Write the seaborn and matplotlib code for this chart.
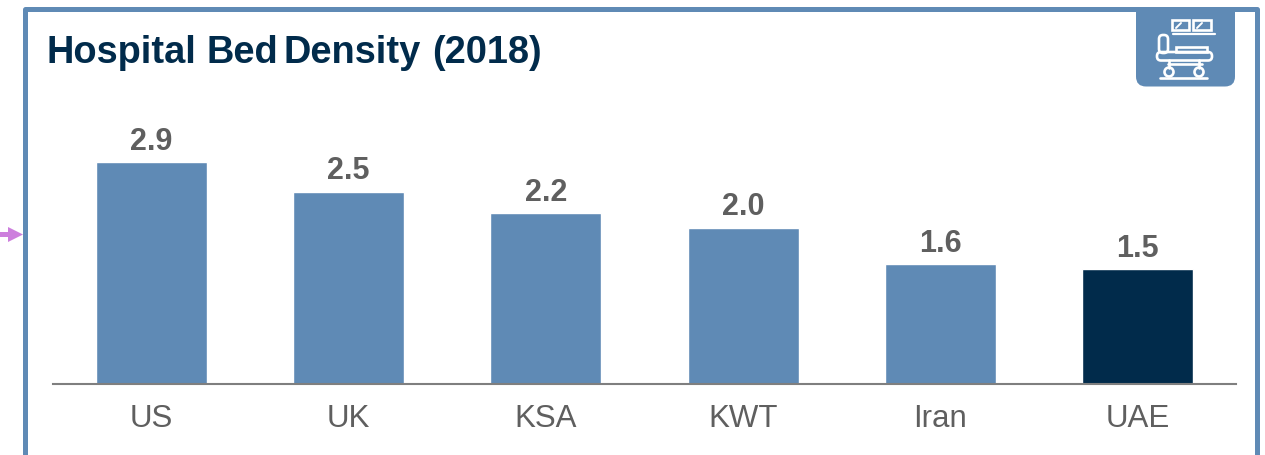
import matplotlib
matplotlib.use("Agg")
import matplotlib.pyplot as plt
from matplotlib.patches import Rectangle, FancyBboxPatch, Circle, Polygon
import seaborn as sns

countries = ["US", "UK", "KSA", "KWT", "Iran", "UAE"]
# bar heights, labels round them to one decimal
beds = [2.9, 2.51, 2.23, 2.04, 1.56, 1.5]
title_words = ["Hospital", "Bed", "Density", "(2018)"]

blue = "#5F8AB5"
navy = "#012B4B"
grey = "#5F5F5F"
bar_colors = [blue, blue, blue, blue, blue, navy]

sns.set_theme(style="white")
plt.rcParams["font.family"] = ["Liberation Sans", "DejaVu Sans"]

W, H = 1265, 456
fig = plt.figure(figsize=(W / 100, H / 100), dpi=100, facecolor="white")

# overlay in pixel coords for the frame, arrow and icon
deco = fig.add_axes([0, 0, 1, 1], zorder=0)
deco.set_xlim(0, W)
deco.set_ylim(H, 0)
deco.axis("off")

# frame, open at the bottom
deco.plot([25, 25, 1256.5, 1256.5], [H + 5, 9.5, 9.5, H + 5], color=blue, lw=3.6,
          solid_joinstyle="round")

# small arrow on the left of the frame
deco.add_patch(Rectangle((0, 233), 9, 5, color="#CD7FDD", lw=0))
deco.add_patch(Polygon([[8, 228], [8, 243], [23, 235.5]], color="#CD7FDD", lw=0))

# icon tab
deco.add_patch(Rectangle((1136, 9), 99, 50, color=blue, lw=0))
deco.add_patch(FancyBboxPatch((1136, 30), 99, 57.5, boxstyle="round,pad=0,rounding_size=10", color=blue, lw=0))

ic = dict(fill=False, ec="white", lw=1.9)
# pictures on the wall
deco.add_patch(Rectangle((1171.5, 20.5), 17.5, 10.5, **ic))
deco.add_patch(Rectangle((1193, 20.5), 17.5, 10.5, **ic))
deco.plot([1176, 1181], [29, 24], color="white", lw=1.4)
deco.plot([1197, 1202], [29, 24], color="white", lw=1.4)
deco.plot([1173, 1215], [34.5, 34.5], color="white", lw=1.6)
# headboard
deco.add_patch(FancyBboxPatch((1159, 36), 9, 18, boxstyle="round,pad=0,rounding_size=4", **ic))
# pillow / mattress
deco.add_patch(Rectangle((1175.5, 48), 31, 5, **ic))
deco.add_patch(FancyBboxPatch((1157, 53), 55, 8.5, boxstyle="round,pad=0,rounding_size=4", **ic))
# frame and wheels
deco.plot([1168, 1202], [64.5, 64.5], color="white", lw=1.9)
deco.plot([1169, 1169], [61, 69], color="white", lw=1.9)
deco.plot([1199, 1199], [61, 69], color="white", lw=1.9)
deco.add_patch(Circle((1169, 73), 4.5, **ic))
deco.add_patch(Circle((1199, 73), 4.5, **ic))
deco.plot([1160, 1207], [78.5, 78.5], color="white", lw=1.9)

# title, word by word because the spaces are narrow in the original
for word, x in zip(title_words, [46.5, 206.5, 284, 432.5]):
    deco.text(x, 63, word, fontsize=27.4, fontweight="bold", color=navy,
              ha="left", va="baseline")

# bars
base_y = 385
top_y = 100
ax = fig.add_axes([53 / W, 1 - base_y / H, (1236 - 53) / W, (base_y - top_y) / H], zorder=1)
ax.patch.set_alpha(0)
sns.barplot(x=countries, y=beds, hue=countries, palette=bar_colors, width=0.563,
            legend=False, saturation=1, ax=ax)
ax.set_xlim(-0.5, 5.5)
ax.set_ylim(0, 3.72)
ax.set_yticks([])
ax.set_xlabel("")
ax.set_ylabel("")
sns.despine(ax=ax, left=True)
ax.spines["bottom"].set_color("#7F7F7F")
ax.spines["bottom"].set_linewidth(1.5)
ax.tick_params(axis="x", length=0, pad=13.5, labelsize=22.5, labelcolor=grey)

for c in ax.containers:
    ax.bar_label(c, fmt="%.1f", padding=4.5, fontsize=22, fontweight="bold", color=grey)

fig.savefig("out.png", dpi=100, facecolor="white")
